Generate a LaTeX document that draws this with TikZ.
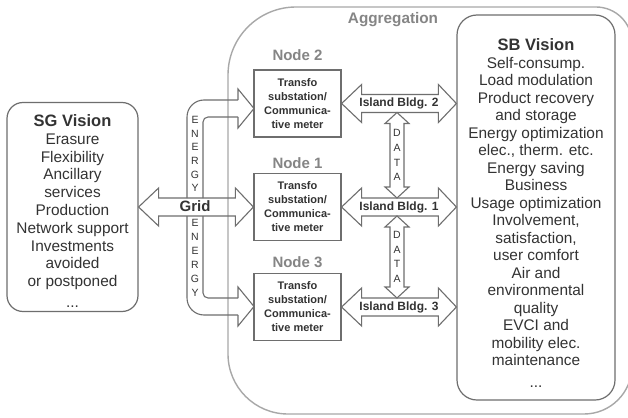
\documentclass[tikz,border=0pt]{standalone}
\usepackage{fontspec}
\setmainfont{Liberation Sans}
\usetikzlibrary{calc}
\definecolor{txt}{HTML}{333333}
\definecolor{ln}{HTML}{6E6E6E}
\definecolor{lbl}{HTML}{858585}
\definecolor{agg}{HTML}{A8A8A8}
\newcommand{\dblH}[2]{\draw[arr] (#1) -- ++(20,-19) -- ++(0,10) -- ($(#2)+(-18,-9)$) -- ++(0,-10) -- (#2) -- ++(-18,19) -- ++(0,-10) -- ($(#1)+(20,9)$) -- ++(0,10) -- cycle;}
\newcommand{\dblV}[2]{\draw[arr] (#1) -- ++(12,11) -- ++(-5,0) -- ($(#2)+(7,-11)$) -- ++(5,0) -- (#2) -- ++(-12,-11) -- ++(5,0) -- ($(#1)+(-7,11)$) -- ++(-5,0) -- cycle;}
\begin{document}
\begin{tikzpicture}[x=1pt,y=-1pt,
  box/.style={draw=ln, line width=1.2pt, text=txt},
  nbox/.style={draw=ln, line width=1.2pt, minimum width=87, minimum height=67, inner sep=0pt, text=txt, align=center, font=\bfseries\fontsize{11}{14}\selectfont},
  nlabel/.style={text=lbl, font=\bfseries\fontsize{15}{17}\selectfont},
  arr/.style={draw=ln, line width=1.1pt},
  arrtxt/.style={text=txt, font=\bfseries\fontsize{12}{14}\selectfont},
  vtxt/.style={text=txt, align=center, inner sep=0pt}]
\useasboundingbox (0,0) rectangle (628,417);
\fill[white] (0,0) rectangle (628,417);
% aggregation zone
\begin{scope}
\clip (0,0) rectangle (628,417);
\draw[agg, line width=1.4pt] (228,200) [rounded corners=68] |- (400,7) [rounded corners=36] -| (632,200) [rounded corners=48] |- (400,414) [rounded corners=60] -| (228,200) -- cycle;
\end{scope}
\node[text=lbl, font=\bfseries\fontsize{15.3}{17}\selectfont] (agglabel) at (393,20) {Aggregation};
% vision boxes
\node[box, rounded corners=16, minimum width=131, minimum height=209] (sg) at (72.5,207) {};
\node[box, rounded corners=20, minimum width=158, minimum height=385] (sb) at (536,207.5) {};
\node[text=txt, align=center, font=\fontsize{15.4}{17.8}\selectfont, inner sep=0pt] (sgtext) at (72.5,211) {{\bfseries\fontsize{16.5}{17.8}\selectfont SG Vision}\\Erasure\\Flexibility\\Ancillary\\services\\Production\\Network support\\Investments\\avoided\\or postponed\\[3pt]...};
\node[text=txt, align=center, font=\fontsize{15.4}{17.5}\selectfont, inner sep=0pt] (sbtext) at (536,213) {{\bfseries\fontsize{16.5}{17.5}\selectfont SB Vision}\\Self-consump.\\Load modulation\\Product recovery\\and storage\\Energy optimization\\elec., therm. etc.\\Energy saving\\Business\\Usage optimization\\Involvement,\\satisfaction,\\user comfort\\Air and\\environmental\\quality\\EVCI and\\mobility elec.\\maintenance\\[4pt]...};
% node boxes
\node[nbox] (n2) at (297.5,103.5) {Transfo\\substation/\\Communica-\\tive meter};
\node[nbox] (n1) at (297.5,207) {Transfo\\substation/\\Communica-\\tive meter};
\node[nbox] (n3) at (297.5,307) {Transfo\\substation/\\Communica-\\tive meter};
\node[nlabel] (l2) at (297.5,55) {Node 2};
\node[nlabel] (l1) at (297.5,163) {Node 1};
\node[nlabel] (l3) at (297.5,262) {Node 3};
% island arrows
\coordinate (i2r) at (n2.east -| sb.west);
\coordinate (i1r) at (n1.east -| sb.west);
\coordinate (i3r) at (n3.east -| sb.west);
\dblH{n2.east}{i2r}
\dblH{n1.east}{i1r}
\dblH{n3.east}{i3r}
\node[arrtxt] (t2) at ($(n2.east)!0.5!(i2r)$) {Island Bldg. 2};
\node[arrtxt] (t1) at ($(n1.east)!0.5!(i1r)$) {Island Bldg. 1};
\node[arrtxt] (t3) at ($(n3.east)!0.5!(i3r)$) {Island Bldg. 3};
% data arrows
\coordinate (d1t) at (397,112.5);
\coordinate (d1b) at (397,198);
\coordinate (d2t) at (397,216);
\coordinate (d2b) at (397,298);
\dblV{d1t}{d1b}
\dblV{d2t}{d2b}
\node[vtxt, font=\fontsize{10.5}{14.7}\selectfont] (data1) at ($(d1t)!0.5!(d1b)$) {D\\A\\T\\A};
\node[vtxt, font=\fontsize{10.5}{14.7}\selectfont] (data2) at ($(d2t)!0.5!(d2b)$) {D\\A\\T\\A};
% grid arrow
\dblH{sg.east}{n1.west}
\node[text=txt, font=\bfseries\fontsize{15}{17}\selectfont] (grid) at (195,206) {Grid};
% energy arrows
\coordinate (e2tip) at (254,108.5);
\coordinate (e3tip) at (254,306.5);
\draw[arr, rounded corners=17] (187,198) |- (238,100);
\draw[arr, rounded corners=5] (203,198) |- (238,117);
\draw[arr] (238,100) -- (238,89) -- (e2tip) -- (238,128) -- (238,117);
\draw[arr, rounded corners=17] (187,216) |- (238,315);
\draw[arr, rounded corners=5] (203,216) |- (238,298);
\draw[arr] (238,298) -- (238,287) -- (e3tip) -- (238,326) -- (238,315);
\node[vtxt, font=\fontsize{10.5}{13.6}\selectfont] (en1) at (195,154) {E\\N\\E\\R\\G\\Y};
\node[vtxt, font=\fontsize{10.5}{13.9}\selectfont] (en2) at (195,258) {E\\N\\E\\R\\G\\Y};
\end{tikzpicture}
\end{document}
